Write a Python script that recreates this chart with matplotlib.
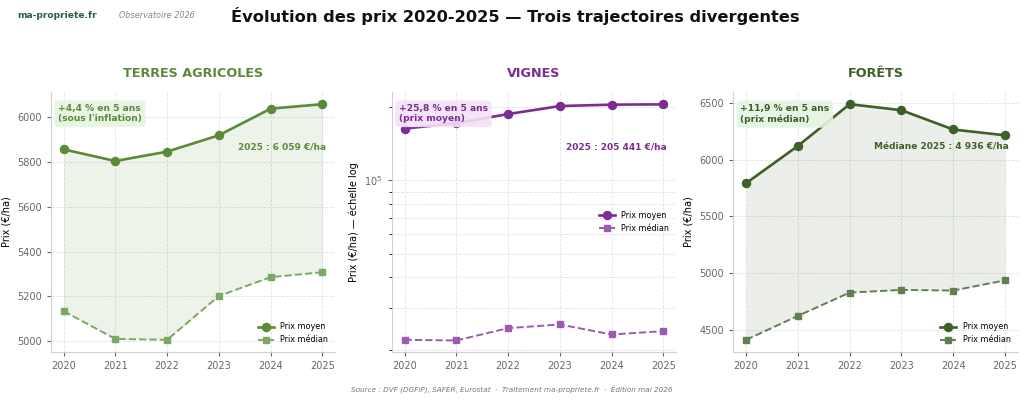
import matplotlib
matplotlib.use('Agg')
from matplotlib import pyplot as plt

years = [2020, 2021, 2022, 2023, 2024, 2025]

# Terres agricoles (€/ha)
terres_moyen = [5857, 5805, 5847, 5920, 6039, 6059]
terres_median = [5134, 5010, 5006, 5202, 5286, 5308]

# Vignes (€/ha)
vignes_moyen = [163300, 172000, 187400, 202200, 204900, 205441]
vignes_median = [22100, 21960, 24680, 25550, 23240, 23990]

# Forêts (€/ha)
forets_moyen = [5792, 6120, 6488, 6435, 6265, 6214]
forets_median = [4412, 4623, 4828, 4852, 4846, 4936]

panels = [
    ('TERRES AGRICOLES', terres_moyen, terres_median, '#5b8a3a', '#7ea664', '#e6f3e2',
     '+4,4 % en 5 ans\n(sous l\'inflation)', '2025 : 6 059 €/ha', 'Prix (€/ha)', False, '#5b8a3a'),
    ('VIGNES', vignes_moyen, vignes_median, '#7b2d91', '#9b5bb3', '#f3e1f7',
     '+25,8 % en 5 ans\n(prix moyen)', '2025 : 205 441 €/ha', 'Prix (€/ha) — échelle log', True, None),
    ('FORÊTS', forets_moyen, forets_median, '#3e5f2a', '#617f50', '#e6f3e2',
     '+11,9 % en 5 ans\n(prix médian)', 'Médiane 2025 : 4 936 €/ha', 'Prix (€/ha)', False, '#3e5f2a'),
]

fig = plt.figure(figsize=(10.24, 4.0), dpi=100)
lefts = [0.0495, 0.3825, 0.716]

for left, (title, moyen, median, c1, c2, boxc, note, last, ylabel, logy, fillc) in zip(lefts, panels):
    ax = fig.add_axes([left, 0.121, 0.278, 0.648])
    ax.plot(years, moyen, '-o', color=c1, lw=1.9, ms=5.8, label='Prix moyen', zorder=3)
    ax.plot(years, median, '--s', color=c2, lw=1.4, ms=4.6, label='Prix médian', zorder=3)
    if fillc:
        ax.fill_between(years, median, moyen, color=fillc, alpha=0.1, lw=0)
    if logy:
        ax.set_yscale('log')
        ax.set_ylim(min(median) * 0.9, max(moyen) * 1.12)
        ax.grid(True, which='both', ls='--', lw=0.6, color='#e2e2e2')
    else:
        ax.grid(True, ls='--', lw=0.6, color='#e2e2e2')
    ax.set_axisbelow(True)
    ax.set_xticks(years)
    ax.set_title(title, color=c1, fontsize=9.2, fontweight='bold', pad=11)
    ax.set_ylabel(ylabel, fontsize=7, labelpad=4)
    ax.tick_params(labelsize=7, colors='#666666', length=3)
    for s in ['top', 'right']:
        ax.spines[s].set_visible(False)
    for s in ['left', 'bottom']:
        ax.spines[s].set_color('#d0d0d0')
    ax.text(0.025, 0.955, note, transform=ax.transAxes, fontsize=6.6, fontweight='bold',
            color=c1, va='top', ha='left', linespacing=1.2,
            bbox=dict(boxstyle='round,pad=0.4', fc=boxc, ec='none', alpha=0.9))
    ax.text(0.968, 0.79, last, transform=ax.transAxes, fontsize=6.5, fontweight='bold',
            color=c1, va='center', ha='right')
    if logy:
        ax.legend(loc='center right', fontsize=5.8, frameon=False, bbox_to_anchor=(1.0, 0.50))
    else:
        ax.legend(loc='lower right', fontsize=5.8, frameon=False)

fig.text(0.017, 0.96, 'ma-propriete.fr', fontsize=6.6, fontweight='bold', color='#2e5e3e', va='center')
fig.text(0.116, 0.96, 'Observatoire 2026', fontsize=5.9, style='italic', color='#888888', va='center')
fig.text(0.226, 0.96, 'Évolution des prix 2020-2025 — Trois trajectoires divergentes',
         fontsize=11.7, fontweight='bold', color='#111111', va='center')
fig.text(0.5, 0.025, 'Source : DVF (DGFiP), SAFER, Eurostat  ·  Traitement ma-propriete.fr  ·  Édition mai 2026',
         fontsize=5.2, style='italic', color='#777777', ha='center', va='center')

plt.savefig('out.png', dpi=100)
